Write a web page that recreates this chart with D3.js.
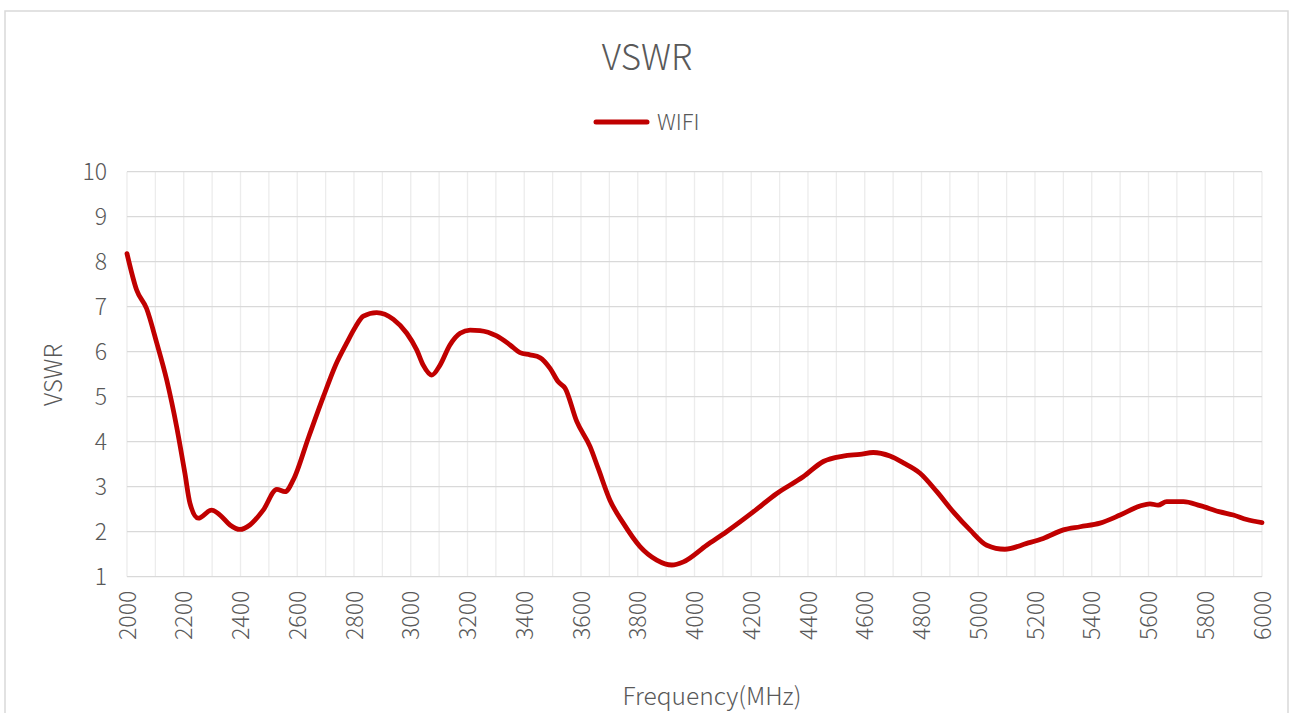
<!DOCTYPE html>
<html lang="zh">
<head>
<meta charset="UTF-8">
<title>VSWR</title>
<script src="https://d3js.org/d3.v7.min.js"></script>
<style>
  body { margin: 0; background: #fff; }
  text { font-family: "Noto Sans CJK SC", "Noto Sans", sans-serif; font-weight: 300; fill: #595959; }
  .grid-h line { stroke: #d9d9d9; stroke-width: 1.3px; }
  .grid-v line { stroke: #ececec; stroke-width: 1.3px; }
</style>
</head>
<body>
<svg id="chart" width="1290" height="713"></svg>
<script>
// 讀圖估計的數據
const freqs = [2000, 2034, 2069, 2105, 2140, 2175, 2204, 2222, 2251, 2298, 2328, 2363, 2398, 2433,
  2480, 2528, 2557, 2586, 2640, 2692, 2735, 2774, 2805, 2833, 2880, 2939, 2986, 3021, 3044, 3074,
  3103, 3138, 3174, 3209, 3244, 3303, 3350, 3385, 3420, 3455, 3491, 3520, 3544, 3585, 3632, 3661,
  3702, 3749, 3808, 3867, 3920, 3961, 4043, 4113, 4207, 4290, 4383, 4454, 4524, 4583, 4630, 4689,
  4736, 4795, 4854, 4912, 4971, 5030, 5094, 5171, 5229, 5300, 5359, 5429, 5500, 5570, 5605, 5634,
  5664, 5723, 5782, 5852, 5899, 5946, 6000];
const vswr = [8.18, 7.37, 6.96, 6.19, 5.37, 4.33, 3.30, 2.63, 2.30, 2.48, 2.37, 2.15, 2.05, 2.15,
  2.48, 2.94, 2.89, 3.15, 4.1, 5.0, 5.7, 6.19, 6.55, 6.79, 6.87, 6.72, 6.41, 6.04, 5.70, 5.48,
  5.70, 6.15, 6.41, 6.48, 6.47, 6.35, 6.15, 5.98, 5.93, 5.87, 5.63, 5.33, 5.19, 4.45, 3.89, 3.40,
  2.70, 2.19, 1.67, 1.37, 1.26, 1.33, 1.70, 2.0, 2.44, 2.85, 3.22, 3.56, 3.68, 3.72, 3.76, 3.68,
  3.53, 3.30, 2.89, 2.44, 2.04, 1.70, 1.61, 1.74, 1.85, 2.04, 2.11, 2.19, 2.37, 2.57, 2.62, 2.59,
  2.67, 2.67, 2.58, 2.44, 2.37, 2.27, 2.20];
const xTicks = d3.range(2000, 6001, 200);
const yTicks = d3.range(1, 11, 1);
const seriesName = "WIFI";

const data = freqs.map((f, i) => ({ f: f, v: vswr[i] }));

const svg = d3.select("#chart");
const plotL = 127, plotR = 1262, plotT = 171.7, plotB = 576.7;

const x = d3.scaleLinear().domain([2000, 6000]).range([plotL, plotR]);
const y = d3.scaleLinear().domain([1, 10]).range([plotB, plotT]);

// 外框
svg.append("rect")
   .attr("x", 5).attr("y", 11).attr("width", 1283).attr("height", 720)
   .attr("fill", "none").attr("stroke", "#d9d9d9").attr("stroke-width", 1.5);

// 標題
svg.append("text").attr("x", 647).attr("y", 70).attr("text-anchor", "middle")
   .style("font-size", "35px").text("VSWR");

// 圖例
svg.append("line").attr("x1", 596).attr("x2", 647).attr("y1", 122).attr("y2", 122)
   .attr("stroke", "#c00000").attr("stroke-width", 5).attr("stroke-linecap", "round");
svg.append("text").attr("x", 657).attr("y", 130).style("font-size", "22px").text(seriesName);

// 縱格線
svg.append("g").attr("class", "grid-v")
   .selectAll("line").data(d3.range(2000, 6001, 100)).enter().append("line")
   .attr("x1", d => x(d)).attr("x2", d => x(d)).attr("y1", plotT).attr("y2", plotB);

// 橫格線
svg.append("g").attr("class", "grid-h")
   .selectAll("line").data(yTicks).enter().append("line")
   .attr("x1", plotL).attr("x2", plotR).attr("y1", d => y(d)).attr("y2", d => y(d));

// Y 軸刻度
const yAxis = svg.append("g").attr("transform", `translate(${plotL},0)`)
   .call(d3.axisLeft(y).tickValues(yTicks).tickSize(0).tickPadding(20));
yAxis.select(".domain").remove();
yAxis.selectAll("text").style("font-size", "23px").style("font-family", "'Noto Sans CJK SC', sans-serif")
     .style("font-weight", 300).attr("fill", "#595959").attr("dy", "0.35em");

// X 軸刻度(直排)
const xAxis = svg.append("g").attr("transform", `translate(0,${plotB})`)
   .call(d3.axisBottom(x).tickValues(xTicks).tickSize(0).tickFormat(d3.format("d")));
xAxis.select(".domain").remove();
xAxis.selectAll("text")
     .style("font-size", "23px").style("font-family", "'Noto Sans CJK SC', sans-serif")
     .style("font-weight", 300).attr("fill", "#595959")
     .attr("transform", "rotate(-90)")
     .attr("x", -14).attr("y", 0).attr("dy", "0.35em")
     .attr("text-anchor", "end");

// 軸名
svg.append("text").attr("transform", "translate(62,375) rotate(-90)")
   .attr("text-anchor", "middle").style("font-size", "24px").text("VSWR");
svg.append("text").attr("x", 712).attr("y", 705).attr("text-anchor", "middle")
   .style("font-size", "24.5px").text("Frequency(MHz)");

// 曲線
const line = d3.line().x(d => x(d.f)).y(d => y(d.v)).curve(d3.curveMonotoneX);
svg.append("path").datum(data)
   .attr("fill", "none").attr("stroke", "#c00000").attr("stroke-width", 4.8)
   .attr("stroke-linejoin", "round").attr("stroke-linecap", "round")
   .attr("d", line);
</script>
</body>
</html>
